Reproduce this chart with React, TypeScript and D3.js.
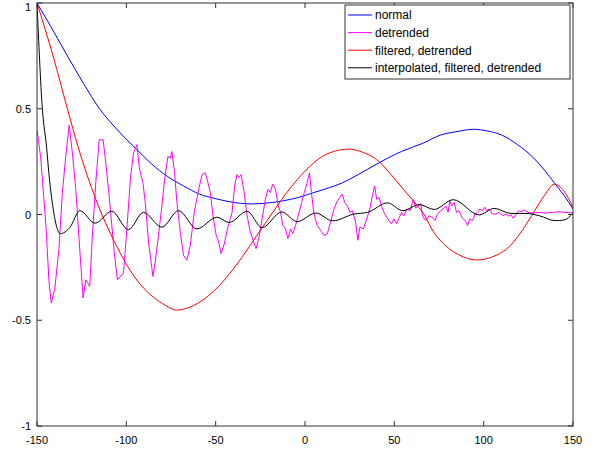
import React from "react";
import * as d3 from "d3";

// ---- data ----
const seriesNames = ["normal", "detrended", "filtered, detrended", "interpolated, filtered, detrended"];
const seriesColors = ["#0000ff", "#ff00ff", "#ff0000", "#000000"];

const xTicks = [-150, -100, -50, 0, 50, 100, 150];
const yTicks = [-1, -0.5, 0, 0.5, 1];
const yTickLabels = ["-1", "-0.5", "0", "0.5", "1"];

const normalX = [-150, -141, -133, -124, -115, -105, -94, -86, -77, -68, -59, -50, -42, -30, -18, -12, -4, 5, 13, 21, 30, 38, 46, 54, 66, 76, 85, 94.5, 102, 110, 119, 128, 134, 139.5, 145, 150];
const normalY = [1.0, 0.87, 0.75, 0.62, 0.5, 0.4, 0.306, 0.24, 0.18, 0.135, 0.096, 0.075, 0.06, 0.05, 0.057, 0.065, 0.08, 0.104, 0.125, 0.15, 0.19, 0.228, 0.265, 0.298, 0.337, 0.376, 0.392, 0.403, 0.395, 0.376, 0.33, 0.267, 0.21, 0.15, 0.09, 0.026];

const filteredX = [-150, -141, -133, -127, -117, -106, -95, -85, -78, -72, -65, -60, -55, -46, -42, -35, -27, -18, -8.5, 0, 10, 17, 24, 32, 40, 48, 55, 61, 66.5, 72, 79, 86, 96, 105, 115, 122, 128, 134, 139.5, 145, 150];
const filteredY = [1.0, 0.75, 0.5, 0.32, 0.07, -0.14, -0.3, -0.39, -0.43, -0.452, -0.44, -0.42, -0.391, -0.318, -0.278, -0.199, -0.1, 0.011, 0.122, 0.205, 0.276, 0.3, 0.309, 0.295, 0.26, 0.19, 0.12, 0.06, 0.002, -0.083, -0.15, -0.19, -0.215, -0.2, -0.146, -0.07, 0.01, 0.09, 0.143, 0.11, 0.034];

const interpX = [-150, -147, -144.6, -143.3, -141, -137, -131.5, -126, -117.5, -108.2, -98.8, -90.4, -80.1, -70.8, -60.5, -49.3, -42.5, -32.4, -24, -13, -4.4, 6, 15.5, 27.3, 35, 46.2, 54.8, 63.9, 72.3, 83, 97.5, 105.9, 115.3, 123.7, 131.2, 140, 145, 150];
const interpY = [1.0, 0.5, 0.315, 0.19, 0.03, -0.091, -0.06, 0.018, -0.041, 0.015, -0.071, 0.01, -0.06, 0.018, -0.068, -0.013, -0.038, 0.015, -0.062, 0.012, -0.034, 0.007, -0.03, 0.002, 0.01, 0.055, 0.018, 0.047, 0.024, 0.07, -0.002, 0.029, 0.005, 0.005, -0.006, -0.029, -0.026, 0.007];

const detrendX = [-150, -148, -145, -143.3, -142, -140, -137.7, -135.8, -133.9, -132, -130.2, -128.3, -126.1, -124.2, -122.7, -121.4, -120.5, -119, -117.1, -115.2, -113, -111.5, -109.6, -106.8, -105, -102.7, -101.6, -99.7, -97.7, -96, -94.1, -92.6, -90.7, -89.4, -87.6, -85.1, -83.8, -82, -80.1, -78.6, -76.7, -75.4, -74.5, -73, -71.7, -69.8, -68, -66.1, -64.2, -62, -59.5, -57.6, -55.8, -54.3, -53, -51.5, -49.7, -48.3, -47, -45.2, -43.3, -40.8, -39.4, -38, -37.1, -35.8, -34.3, -32.4, -30.6, -28.7, -27.4, -25.9, -24, -22.2, -20.7, -19.4, -18.1, -16.5, -15, -13.7, -12.4, -10.9, -9.6, -8.1, -6.8, -5.3, -3.8, -1.9, -0.4, 1.2, 2.5, 3.6, 4.9, 6.8, 8.7, 10.6, 12.5, 14.3, 16.2, 18.1, 19.4, 20.9, 22.2, 23.7, 25.2, 26.5, 28.3, 29.6, 30.7, 32.7, 34.5, 36.3, 37.7, 39, 40.1, 41.4, 42.8, 44.2, 45.7, 47, 48.4, 49.8, 51.3, 52.8, 54.1, 55.4, 56.9, 58.8, 60.7, 62, 63.3, 64.8, 65.7, 67.6, 69.5, 71.3, 72.8, 74.1, 76, 77.3, 78.8, 80.1, 81, 82.1, 83.5, 84.8, 86.3, 87.8, 89.6, 91, 92.2, 93.8, 95.2, 96.6, 97.9, 99.4, 100.7, 101.8, 103.1, 105, 106.9, 108.7, 110.6, 112.5, 114, 115.3, 116.6, 118.1, 119.6, 120.9, 122.7, 124.6, 127.4, 131.2, 134.9, 138.6, 142.4, 146.1, 150];
const detrendY = [0.4, 0.275, -0.05, -0.317, -0.418, -0.348, -0.161, 0.104, 0.275, 0.423, 0.29, 0.119, -0.161, -0.395, -0.309, -0.325, -0.34, -0.099, 0.15, 0.353, 0.353, 0.244, 0.088, -0.177, -0.309, -0.286, -0.278, -0.068, 0.17, 0.29, 0.33, 0.213, 0.15, 0.057, -0.13, -0.293, -0.223, -0.099, 0.041, 0.166, 0.275, 0.267, 0.298, 0.197, 0.057, -0.083, -0.193, -0.216, -0.146, 0.01, 0.119, 0.189, 0.197, 0.15, 0.104, -0.006, -0.099, -0.13, -0.185, -0.14, -0.065, 0.01, 0.135, 0.189, 0.174, 0.189, 0.119, -0.006, -0.083, -0.13, -0.161, -0.114, -0.021, 0.072, 0.119, 0.104, 0.143, 0.119, 0.041, 0.01, -0.052, -0.068, -0.114, -0.068, -0.091, -0.052, -0.006, 0.057, 0.104, 0.15, 0.197, 0.104, 0.01, -0.052, -0.075, -0.099, -0.091, -0.036, 0.026, 0.065, 0.08, 0.096, 0.057, 0.041, 0.01, 0.018, -0.036, -0.122, -0.06, -0.068, -0.021, 0.026, 0.088, 0.135, 0.072, 0.08, 0.041, 0.01, -0.013, -0.029, -0.044, -0.021, -0.044, -0.013, 0.01, -0.006, 0.026, 0.018, 0.072, 0.03, 0.041, 0.05, -0.006, -0.029, -0.006, -0.013, -0.029, 0.002, 0.018, 0.026, 0.041, 0.01, 0.065, 0.041, 0.057, 0.01, 0.018, -0.013, -0.029, -0.052, -0.021, -0.029, 0.002, 0.01, 0.026, 0.018, 0.034, 0.018, 0.026, 0.002, 0.002, 0.01, -0.006, 0.002, -0.008, -0.002, -0.018, 0.002, 0.018, 0.013, 0.022, 0.01, 0.007, 0.01, 0.007, 0.01, 0.013, 0.01, 0.007];

// ---- layout ----
const W = 605;
const H = 449;
const left = 37;
const right = 573;
const top = 3;
const bottom = 426;
const font = "'Liberation Sans', Arial, Helvetica, sans-serif";

export default function App() {
  const x = d3.scaleLinear().domain([-150, 150]).range([left, right]);
  const y = d3.scaleLinear().domain([-1, 1]).range([bottom, top]);

  const smooth = d3.line<[number, number]>().x((d) => x(d[0])).y((d) => y(d[1])).curve(d3.curveMonotoneX);
  const straight = d3.line<[number, number]>().x((d) => x(d[0])).y((d) => y(d[1]));

  const zip = (a: number[], b: number[]) => a.map((v, i) => [v, b[i]] as [number, number]);

  const paths = [
    { d: smooth(zip(normalX, normalY)), c: seriesColors[0] },
    { d: straight(zip(detrendX, detrendY)), c: seriesColors[1] },
    { d: smooth(zip(filteredX, filteredY)), c: seriesColors[2] },
    { d: smooth(zip(interpX, interpY)), c: seriesColors[3] },
  ];

  const axisColor = "#333";
  const tickLen = 5;

  const legX = 345;
  const legY = 5;
  const legW = 225;
  const legH = 74;
  const legRow = 17.6;

  return (
    <svg width={W} height={H} style={{ position: "absolute", left: 0, top: 0, background: "#fff" }}>
      <rect x={0} y={0} width={W} height={H} fill="#fff" />
      <defs>
        <clipPath id="plotclip">
          <rect x={left} y={top} width={right - left} height={bottom - top} />
        </clipPath>
      </defs>
      <g clipPath="url(#plotclip)">
        {paths.map((p, i) => (
          <path key={i} d={p.d || ""} fill="none" stroke={p.c} strokeWidth={1} strokeLinejoin="round" />
        ))}
      </g>
      {/* frame */}
      <rect x={left} y={top} width={right - left} height={bottom - top} fill="none" stroke={axisColor} strokeWidth={1} />
      {xTicks.map((t) => (
        <g key={"x" + t}>
          <line x1={x(t)} x2={x(t)} y1={bottom} y2={bottom - tickLen} stroke={axisColor} />
          <line x1={x(t)} x2={x(t)} y1={top} y2={top + tickLen} stroke={axisColor} />
          <text x={x(t)} y={444} textAnchor="middle" fontFamily={font} fontSize={11} fill="#000">
            {String(t)}
          </text>
        </g>
      ))}
      {yTicks.map((t, i) => (
        <g key={"y" + t}>
          <line x1={left} x2={left + tickLen} y1={y(t)} y2={y(t)} stroke={axisColor} />
          <line x1={right} x2={right - tickLen} y1={y(t)} y2={y(t)} stroke={axisColor} />
          <text x={31} y={Math.max(y(t), 6.5) + 4} textAnchor="end" fontFamily={font} fontSize={11} fill="#000">
            {yTickLabels[i]}
          </text>
        </g>
      ))}
      {/* legend */}
      <rect x={legX} y={legY} width={legW} height={legH} fill="#fff" stroke={axisColor} strokeWidth={1} />
      {seriesNames.map((n, i) => {
        const ly = legY + 10 + i * legRow;
        return (
          <g key={n}>
            <line x1={legX + 3} x2={legX + 27} y1={ly} y2={ly} stroke={seriesColors[i]} strokeWidth={1} />
            <text x={legX + 30} y={ly + 4.3} fontFamily={font} fontSize={12} fill="#000">
              {n}
            </text>
          </g>
        );
      })}
    </svg>
  );
}
